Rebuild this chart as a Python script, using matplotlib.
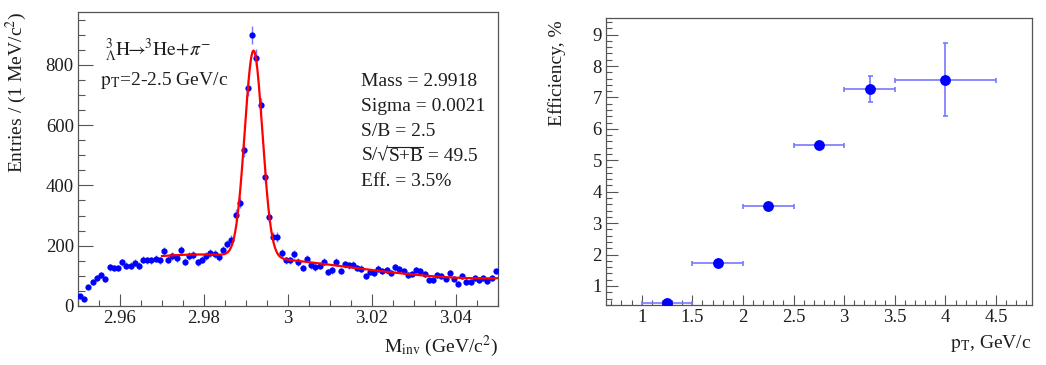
import numpy as np
import matplotlib
matplotlib.use("Agg")
import matplotlib.pyplot as plt
from matplotlib.ticker import MultipleLocator, FuncFormatter

plt.rcParams['font.family'] = ['Liberation Serif', 'DejaVu Serif']
plt.rcParams['mathtext.fontset'] = 'stix'

# ---------------- Left panel data: invariant mass histogram ----------------
mass_lo, mass_hi, n_bins = 2.95, 3.05, 100
counts = [33, 22, 63, 80, 94, 103, 90, 129, 126, 126,
          145, 133, 133, 143, 133, 154, 151, 151, 157, 151,
          182, 154, 166, 160, 186, 147, 166, 169, 145, 154,
          166, 177, 173, 161, 186, 206, 220, 303, 342, 516,
          722, 898, 824, 665, 428, 295, 229, 229, 177, 151,
          151, 171, 146, 126, 157, 135, 129, 133, 147, 113,
          118, 146, 116, 138, 135, 137, 126, 124, 99, 113,
          109, 124, 116, 118, 109, 129, 122, 116, 102, 105,
          120, 116, 107, 87, 87, 102, 99, 91, 109, 91,
          74, 98, 80, 80, 93, 85, 93, 82, 93, 116]

# Fit: Gaussian peak + polynomial background
fit_range = (2.970, 3.050)
fit_mass = 2.9918
fit_sigma = 0.0021
fit_amplitude = 683
bg_anchor_mass = [2.970, 2.977, 2.984, 2.9994, 3.0188, 3.0347, 3.0498]
bg_anchor_level = [165, 170, 172, 154, 118, 102, 91]

decay_label = r'${}^{3}_{\Lambda}\mathrm{H}\!\!\rightarrow\!\!{}^{3}\mathrm{He}\!+\!\pi^{-}$'
pt_label = r'$\mathrm{p}_{\mathrm{T}}$=2-2.5 GeV/c'
stats_lines = ['Mass = 2.9918', 'Sigma = 0.0021', 'S/B = 2.5',
               None, 'Eff. = 3.5%']
sqrt_line = ('S/√', 'S+B', ' = 49.5')

# ---------------- Right panel data: efficiency vs pT ----------------
pt_center = [1.25, 1.75, 2.25, 2.75, 3.25, 4.0]
pt_halfwidth = [0.25, 0.25, 0.25, 0.25, 0.25, 0.5]
efficiency = [0.45, 1.73, 3.53, 5.48, 7.27, 7.57]
efficiency_err = [0.05, 0.08, 0.08, 0.08, 0.41, 1.16]

# ---------------- Styling ----------------
BLUE = '#0000ff'
ERR = '#7878ff'
FRAME = '#555555'
TXT = '#1e1e1e'
FS = 14
TFS = 13.5

fig = plt.figure(figsize=(10.46, 3.65), dpi=100)
axL = fig.add_axes([78/1046, 1-306/365, 420/1046, 294/365])
axR = fig.add_axes([606/1046, 1-305/365, 425.7/1046, 287/365])


def style_axes(ax, xmaj, ymaj):
    for s in ax.spines.values():
        s.set_color(FRAME)
        s.set_linewidth(0.9)
    ax.tick_params(which='both', direction='in', top=False, right=False,
                   color=FRAME, width=0.8, labelsize=TFS, labelcolor=TXT)
    ax.tick_params(axis='x', which='major', length=xmaj)
    ax.tick_params(axis='x', which='minor', length=xmaj / 2)
    ax.tick_params(axis='y', which='major', length=ymaj)
    ax.tick_params(axis='y', which='minor', length=ymaj / 2)
    ax.tick_params(axis='x', which='both', pad=3)
    ax.tick_params(axis='y', which='both', pad=3)


gfmt = FuncFormatter(lambda v, p: ('%g' % round(v, 6)))

# Left panel
centers = np.linspace(mass_lo, mass_hi, n_bins + 1)[:-1] + (mass_hi - mass_lo) / n_bins / 2
counts_arr = np.array(counts, dtype=float)
axL.errorbar(centers, counts_arr, yerr=np.sqrt(counts_arr), fmt='none',
             ecolor=ERR, elinewidth=1.0, zorder=2)
axL.plot(centers, counts_arr, 'o', color=BLUE, markersize=4.5, markeredgewidth=0, zorder=3)

bg_coef = np.polyfit(np.array(bg_anchor_mass) - fit_mass, bg_anchor_level, 3)
xf = np.linspace(fit_range[0], fit_range[1], 800)
yf = fit_amplitude * np.exp(-0.5 * ((xf - fit_mass) / fit_sigma) ** 2) + np.polyval(bg_coef, xf - fit_mass)
axL.plot(xf, yf, color='#ff0000', lw=1.6, zorder=4)

axL.set_xlim(mass_lo, mass_hi)
axL.set_ylim(0, 975)
style_axes(axL, 8.5, 10.5)
axL.xaxis.set_major_locator(MultipleLocator(0.02))
axL.xaxis.set_minor_locator(MultipleLocator(0.005))
axL.yaxis.set_major_locator(MultipleLocator(200))
axL.yaxis.set_minor_locator(MultipleLocator(50))
axL.xaxis.set_major_formatter(gfmt)
axL.yaxis.set_major_formatter(gfmt)

axL.set_xlabel(r'$\mathrm{M}_{\mathrm{inv}}$ (GeV/c$^{2}$)', fontsize=FS, loc='right', color=TXT)
axL.xaxis.set_label_coords(1.0, -0.095)
axL.set_ylabel(r'Entries / (1 MeV/c$^{2}$)', fontsize=FS, loc='top', color=TXT)
axL.yaxis.set_label_coords(-0.117, 1.0)

axL.text(0.065, 0.853, decay_label, transform=axL.transAxes, fontsize=FS,
         va='baseline', ha='left', color=TXT)
axL.text(0.0514, 0.751, pt_label, transform=axL.transAxes, fontsize=FS,
         va='baseline', ha='left', color=TXT)
for k, line in enumerate(stats_lines):
    yk = 0.747 - k * 0.0844
    if line is not None:
        axL.text(0.6745, yk, line, transform=axL.transAxes, fontsize=FS,
                 va='baseline', ha='left', color=TXT)
    else:
        t1 = axL.text(0.6745, yk, sqrt_line[0], transform=axL.transAxes, fontsize=FS,
                      va='baseline', ha='left', color=TXT)
        fig.canvas.draw()
        bb1 = t1.get_window_extent()
        inv = axL.transAxes.inverted()
        x2 = inv.transform((bb1.x1, bb1.y0))[0]
        t2 = axL.text(x2, yk, sqrt_line[1], transform=axL.transAxes, fontsize=FS,
                      va='baseline', ha='left', color=TXT)
        fig.canvas.draw()
        bb2 = t2.get_window_extent()
        x3 = inv.transform((bb2.x1, bb2.y0))[0]
        # overline of the root sign
        ytop = inv.transform((0, bb1.y1 + 1.2))[1]
        axL.plot([x2 - 0.002, x3], [ytop, ytop], transform=axL.transAxes, color=TXT, lw=0.8)
        axL.text(x3, yk, sqrt_line[2], transform=axL.transAxes, fontsize=FS,
                 va='baseline', ha='left', color=TXT)

# Right panel
axR.errorbar(pt_center, efficiency, xerr=pt_halfwidth, yerr=efficiency_err, fmt='none',
             ecolor=ERR, elinewidth=1.2, capsize=1.8, capthick=1.2, zorder=2)
axR.plot(pt_center, efficiency, 'o', color=BLUE, markersize=7.8, markeredgewidth=0, zorder=3)
axR.set_xlim(0.647, 4.852)
axR.set_ylim(0.394, 9.53)
style_axes(axR, 7, 8.5)
axR.xaxis.set_major_locator(MultipleLocator(0.5))
axR.xaxis.set_minor_locator(MultipleLocator(0.1))
axR.yaxis.set_major_locator(MultipleLocator(1))
axR.yaxis.set_minor_locator(MultipleLocator(0.2))
axR.xaxis.set_major_formatter(gfmt)
axR.yaxis.set_major_formatter(gfmt)
axR.set_xlabel(r'$\mathrm{p}_{\mathrm{T}}$, GeV/c', fontsize=FS, loc='right', color=TXT)
axR.xaxis.set_label_coords(1.0, -0.098)
axR.set_ylabel('Efficiency, %', fontsize=FS, loc='top', color=TXT)
axR.yaxis.set_label_coords(-0.094, 0.99)

fig.savefig('out.png', dpi=100)
